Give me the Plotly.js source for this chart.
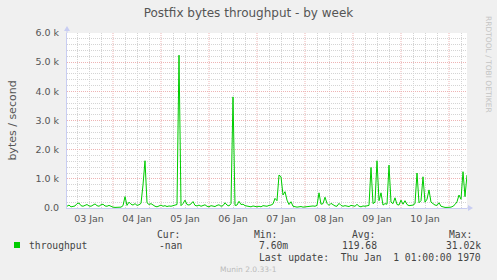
<!DOCTYPE html>
<html>
<head>
<meta charset="utf-8">
<script src="https://cdn.plot.ly/plotly-3.0.1.min.js"></script>
<style>
  html, body { margin: 0; padding: 0; background: #f0f0f0; }
  #chart { width: 497px; height: 280px; }
</style>
</head>
<body>
<div id="chart"></div>
<script>
// ---- data (hours since 03 Jan 00:00, one sample per hour, starting at hour 1) ----
const startHour = 1;
const throughput = [
  60, 100, 40, 50, 70, 150, 170, 80, 60, 90,
  120, 70, 60, 100, 140, 80, 60, 110, 130, 70,
  60, 90, 50, 30, 20, 20, 25, 30, 80, 390,
  90, 200, 130, 100, 150, 90, 110, 160, 790, 1620,
  180, 120, 150, 90, 60, 40, 70, 100, 60, 80,
  50, 70, 60, 90, 100, 120, 5240, 80, 150, 270,
  120, 100, 140, 220, 90, 70, 100, 60, 80, 110,
  60, 40, 80, 70, 50, 90, 110, 60, 80, 180,
  100, 70, 150, 3810, 90, 100, 230, 120, 130, 80,
  60, 50, 40, 70, 50, 40, 60, 40, 80, 70,
  60, 90, 100, 140, 330, 250, 1130, 1070, 445, 560,
  270, 120, 215, 60, 40, 30, 40, 50, 30, 40,
  60, 50, 80, 70, 60, 90, 520, 130, 150, 370,
  160, 90, 160, 100, 70, 60, 160, 90, 60, 80,
  60, 50, 90, 70, 60, 125, 60, 40, 70, 60,
  80, 90, 1390, 150, 200, 1620, 250, 520, 100, 150,
  130, 1470, 200, 150, 350, 120, 100, 270, 130, 250,
  120, 80, 90, 100, 150, 1200, 180, 250, 1070, 200,
  300, 620, 200, 150, 100, 90, 180, 60, 30, 20,
  20, 20, 30, 60, 120, 215, 445, 300, 1245, 390, 1130
];
const dayLabels = ["03 Jan", "04 Jan", "05 Jan", "06 Jan", "07 Jan", "08 Jan", "09 Jan", "10 Jan"];
const yTickValues = [0, 1000, 2000, 3000, 4000, 5000, 6000];
const yTickLabels = ["0.0", "1.0 k", "2.0 k", "3.0 k", "4.0 k", "5.0 k", "6.0 k"];
const legendName = "throughput";
const statHeaders = ["Cur:", "Min:", "Avg:", "Max:"];
const statValues = ["-nan", "7.60m", "119.68", "31.02k"];
const lastUpdate = "Last update:\u00A0\u00A0Thu Jan\u00A0\u00A01 01:00:00 1970";

const hours = throughput.map((_, i) => startHour + i);

// x ticks every 6 h (not at midnight): labels at noon; midnight lines drawn separately in red
const xTickVals = [], xTickText = [], midnightHours = [];
for (let d = 0; d <= dayLabels.length + 1; d++) {
  midnightHours.push(24 * d);
  [6, 12, 18].forEach(o => {
    xTickVals.push(24 * d + o);
    xTickText.push(o === 12 && d < dayLabels.length ? dayLabels[d] : '');
  });
}

// ---- layout helpers (pixel -> paper) ----
const L = 67, R = 467, T = 33, B = 208;
const PX = v => (v - L) / (R - L);
const PY = v => (B - v) / (B - T);

const axisCol = '#c8cdf2';
const majorGrid = '#eeb4b4';
const minorGrid = '#d4d4d4';
const textCol = '#555555';
const mono = 'DejaVu Sans Mono, monospace';
const sans = 'DejaVu Sans, sans-serif';

const trace = {
  x: hours, y: throughput, type: 'scatter', mode: 'lines',
  line: { color: '#00cc00', width: 1 }, name: legendName,
  hoverinfo: 'skip', showlegend: false
};

const annotations = [];
const legY1 = 234, legY2 = 245, legY3 = 257;
const hdrX = [155, 252, 350, 447];
const valX = [184, 290, 379, 483];
statHeaders.forEach((h, i) => annotations.push({
  xref: 'paper', yref: 'paper', x: PX(hdrX[i]), y: PY(legY1), text: h, showarrow: false,
  xanchor: 'left', yanchor: 'middle', font: { family: mono, size: 9.7, color: '#444' }
}));
statValues.forEach((v, i) => annotations.push({
  xref: 'paper', yref: 'paper', x: PX(valX[i]), y: PY(legY2), text: v, showarrow: false,
  xanchor: 'right', yanchor: 'middle', font: { family: mono, size: 9.7, color: '#444' }
}));
annotations.push({
  xref: 'paper', yref: 'paper', x: PX(27), y: PY(legY2), text: legendName, showarrow: false,
  xanchor: 'left', yanchor: 'middle', font: { family: mono, size: 9.7, color: '#444' }
});
annotations.push({
  xref: 'paper', yref: 'paper', x: PX(483), y: PY(legY3), text: lastUpdate, showarrow: false,
  xanchor: 'right', yanchor: 'middle', font: { family: mono, size: 9.7, color: '#444' }
});
annotations.push({
  xref: 'paper', yref: 'paper', x: PX(248), y: PY(269), text: 'Munin 2.0.33-1', showarrow: false,
  xanchor: 'center', yanchor: 'middle', font: { family: sans, size: 7.5, color: '#bbbbbb' }
});
annotations.push({
  xref: 'paper', yref: 'paper', x: PX(489), y: PY(64), text: 'RRDTOOL / TOBI OETIKER', showarrow: false,
  textangle: 90, xanchor: 'center', yanchor: 'middle', font: { family: sans, size: 7.5, color: '#c4c4c4' }
});

const shapes = [
  // legend colour swatch
  { type: 'rect', xref: 'paper', yref: 'paper', x0: PX(14), x1: PX(20), y0: PY(248), y1: PY(242),
    fillcolor: '#00cc00', line: { width: 0 } },
  // y axis extension + arrow
  { type: 'line', xref: 'paper', yref: 'paper', x0: 0, x1: 0, y0: 1, y1: PY(30),
    line: { color: axisCol, width: 1 } },
  { type: 'path', xref: 'paper', yref: 'paper',
    path: `M ${PX(64)} ${PY(31)} L ${PX(67)} ${PY(26)} L ${PX(70)} ${PY(31)} Z`,
    fillcolor: axisCol, line: { width: 0 } },
  // x axis extension + arrow
  { type: 'line', xref: 'paper', yref: 'paper', x0: 1, x1: PX(470), y0: 0, y1: 0,
    line: { color: axisCol, width: 1 } },
  { type: 'path', xref: 'paper', yref: 'paper',
    path: `M ${PX(468)} ${PY(205)} L ${PX(473)} ${PY(208)} L ${PX(468)} ${PY(211)} Z`,
    fillcolor: axisCol, line: { width: 0 } }
];
// red major grid at each midnight (derived from the day list)
midnightHours.forEach(h => {
  if (h > startHour && h < startHour + 200) shapes.push({
    type: 'line', xref: 'x', yref: 'paper', x0: h, x1: h, y0: 0, y1: 1, layer: 'below',
    line: { color: majorGrid, width: 1, dash: '1px,1px' }
  });
});

const layout = {
  width: 497, height: 280,
  margin: { l: L, r: 497 - R, t: T, b: 280 - B, pad: 0 },
  paper_bgcolor: '#f0f0f0', plot_bgcolor: '#ffffff',
  showlegend: false,
  title: { text: 'Postfix bytes throughput - by week', x: 0.5, xref: 'container', xanchor: 'center',
    y: 1 - 13 / 280, yref: 'container', yanchor: 'middle',
    font: { family: sans, size: 12, color: textCol } },
  xaxis: {
    range: [startHour, startHour + 200], fixedrange: true,
    tickmode: 'array', tickvals: xTickVals, ticktext: xTickText,
    ticks: '', ticklabelstandoff: 2,
    tickfont: { family: sans, size: 9.5, color: textCol },
    showgrid: true, gridcolor: minorGrid, griddash: '1px,1px', gridwidth: 1,
    showline: true, linecolor: axisCol, linewidth: 1, zeroline: false
  },
  yaxis: {
    range: [0, 6000], fixedrange: true,
    tickmode: 'array', tickvals: yTickValues, ticktext: yTickLabels,
    ticks: '', ticklabelstandoff: 5,
    tickfont: { family: sans, size: 9.5, color: textCol },
    showgrid: true, gridcolor: majorGrid, griddash: '1px,1px', gridwidth: 1,
    minor: { tickmode: 'linear', tick0: 0, dtick: 200, showgrid: true, gridcolor: minorGrid,
      griddash: '1px,1px', gridwidth: 1, ticks: '' },
    showline: true, linecolor: axisCol, linewidth: 1, zeroline: false,
    title: { text: 'bytes / second', standoff: 16, font: { family: sans, size: 11, color: textCol } }
  },
  annotations: annotations,
  shapes: shapes
};

Plotly.newPlot('chart', [trace], layout, { staticPlot: true, displayModeBar: false });
</script>
</body>
</html>
